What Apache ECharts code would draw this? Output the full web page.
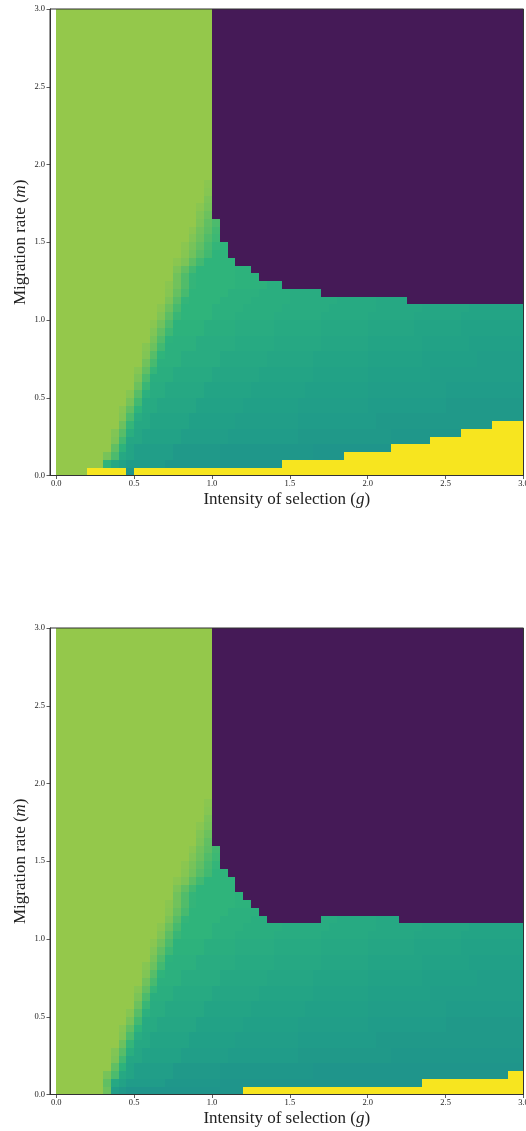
<!DOCTYPE html>
<html><head><meta charset="utf-8">
<script src="https://cdn.jsdelivr.net/npm/echarts@6/dist/echarts.min.js"></script>
<style>html,body{margin:0;padding:0;background:#fff;}#c{width:526px;height:1131px;}</style>
</head><body><div id="c"></div>
<script>
// ---- data ----
const CELL = 0.05;                       // grid step in g and m
const gTicks = [0, 0.5, 1, 1.5, 2, 2.5, 3];
const mTicks = [0, 0.5, 1, 1.5, 2, 2.5, 3];
const xName = 'Intensity of selection ({i|g})';
const yName = 'Migration rate ({i|m})';
// special levels: G = green region, P = purple region, Y = yellow region
const SPECIAL = { G: 0.85, P: 0.0, Y: 1.0 };
// other chars: value = 0.50 + base36(char) * 0.01
// rows written from top (m = 2.95..3.00) to bottom (m = 0..0.05), run-length: char + count
const topRows = [
"G20 P40","G20 P40","G20 P40","G20 P40","G20 P40","G20 P40","G20 P40","G20 P40","G20 P40","G20 P40","G20 P40",
"G20 P40","G20 P40","G20 P40","G20 P40","G20 P40","G20 P40","G20 P40","G20 P40","G20 P40","G20 P40","G20 P40",
"G19 x1 P40",
"G19 w1 P40",
"G19 u1 P40",
"G18 x1 t1 P40",
"G18 v1 r1 P40",
"G18 u1 p1 l1 P39",
"G17 x1 s1 o1 j1 P39",
"G17 v1 r1 m1 i1 P39",
"G16 x1 t1 p1 k1 g1 f1 P38",
"G16 w1 s1 n1 j1 f2 P38",
"G15 x1 u1 o1 j1 f4 P37",
"G15 u1 p1 j1 f5 e2 P35",
"G15 s1 m1 g1 f5 e3 P34",
"G14 x1 s1 m1 g1 f5 e4 c2 P31",
"G14 w1 q1 k1 f5 d4 c4 b4 P26",
"G14 u1 n1 g1 f4 d4 c5 b6 a5 94 P15",
"G13 x1 r1 k1 f4 d4 c5 b6 a6 96 86 77",
"G13 v1 o1 h1 f4 d3 c5 b6 a6 96 86 78",
"G12 x1 s1 l1 e4 c4 b5 a6 96 86 76 68",
"G12 v1 p1 i1 e4 c4 b5 a6 96 86 76 68",
"G12 t1 m1 e1 d3 b5 a5 96 86 77 66 57",
"G11 w1 r1 j1 d4 b5 a5 96 86 77 66 57",
"G11 v1 n1 f1 d2 b5 96 86 77 67 57 46",
"G11 s1 k1 d3 b5 96 86 77 67 57 46",
"G10 w1 p1 g1 c2 a5 86 77 67 58 412",
"G10 u1 l1 c3 a5 86 77 67 58 412",
"G10 r1 h1 b2 95 76 67 58 410 310",
"G9 w1 n1 d1 b2 95 76 67 58 410 310",
"G9 t1 j1 a2 85 66 57 49 310 210",
"G8 w1 p1 f1 a2 85 66 57 49 310 210",
"G8 v1 l1 b1 91 75 56 48 310 219",
"G8 r1 g1 92 75 56 48 310 215 Y4",
"G7 v1 n1 c1 81 65 46 39 212 19 Y8",
"G7 u1 j1 82 65 46 39 212 15 Y12",
"G7 p1 e1 71 45 26 112 010 Y17",
"G6 t1 l1 91 71 45 26 112 04 Y23",
"G6 f1 91 61 35 17 08 Y31",
"G4 Y5 01 Y50"
];
const bottomRows = [
"G20 P40","G20 P40","G20 P40","G20 P40","G20 P40","G20 P40","G20 P40","G20 P40","G20 P40","G20 P40","G20 P40",
"G20 P40","G20 P40","G20 P40","G20 P40","G20 P40","G20 P40","G20 P40","G20 P40","G20 P40","G20 P40","G20 P40",
"G19 x1 P40",
"G19 w1 P40",
"G19 u1 P40",
"G18 x1 t1 P40",
"G18 v1 r1 P40",
"G18 u1 p1 P40",
"G17 x1 s1 o1 j1 P39",
"G17 v1 r1 m1 i1 P39",
"G16 x1 t1 p1 k1 g1 P39",
"G16 w1 s1 n1 j1 f2 P38",
"G15 x1 u1 o1 j1 f4 P37",
"G15 u1 p1 j1 f5 P37",
"G15 s1 m1 g1 f5 e1 P36",
"G14 x1 s1 m1 g1 f5 e2 P35",
"G14 w1 q1 k1 f5 d4 P34",
"G14 u1 n1 g1 f4 d4 c2 P7 b2 a5 93 P16",
"G13 x1 r1 k1 f4 d4 c5 b6 a6 96 86 77",
"G13 v1 o1 h1 f4 d3 c5 b6 a6 96 86 78",
"G12 x1 s1 l1 e4 c4 b5 a6 96 86 76 68",
"G12 v1 p1 i1 e4 c4 b5 a6 96 86 76 68",
"G12 t1 m1 e1 d3 b5 a5 96 86 77 66 57",
"G11 w1 r1 j1 d4 b5 a5 96 86 77 66 57",
"G11 v1 n1 f1 d2 b5 96 86 77 67 57 46",
"G11 s1 k1 d3 b5 96 86 77 67 57 46",
"G10 w1 p1 g1 c2 a5 86 77 67 58 412",
"G10 u1 l1 c3 a5 86 77 67 58 412",
"G10 r1 h1 b2 95 76 67 58 410 310",
"G9 w1 n1 d1 b2 95 76 67 58 410 310",
"G9 t1 j1 a2 85 66 57 49 310 210",
"G8 w1 p1 f1 a2 85 66 57 49 310 210",
"G8 v1 l1 b1 91 75 56 48 310 219",
"G8 r1 g1 92 75 56 48 310 219",
"G7 v1 n1 c1 81 65 46 39 212 117",
"G7 u1 j1 82 65 46 39 212 117",
"G7 p1 e1 71 45 26 112 027",
"G6 t1 l1 91 71 45 26 112 025 Y2",
"G6 p1 91 61 35 17 026 Y13",
"G6 r1 41 21 015 Y36"
];

// ---- decode run-length rows into [g, m, value] cells ----
function decodeRows(rows) {
  const out = [];
  const n = rows.length;
  rows.forEach((row, i) => {
    const r = n - 1 - i;
    let c = 0;
    row.trim().split(/\s+/).forEach(tok => {
      const ch = tok[0];
      const cnt = parseInt(tok.slice(1), 10);
      const v = (ch in SPECIAL) ? SPECIAL[ch] : 0.5 + parseInt(ch, 36) * 0.01;
      for (let k = 0; k < cnt; k++, c++) {
        out.push([+(c * CELL).toFixed(2), +(r * CELL).toFixed(2), +v.toFixed(2)]);
      }
    });
  });
  return out;
}

const PALETTE = ['#451a57','#46205f','#462c6c','#443878','#3f4683','#3a5388','#35608b','#2f6c8c','#2a788d','#25858d',
  '#1f958b','#21a087','#27aa82','#2fb47b','#47ba6f','#61bf63','#7cc457','#94c84b','#b2d23b','#d5dc2c','#f7e51f'];

const FONT = 'Liberation Serif';
const AX = '#333';

function renderCell(params, api) {
  const g = api.value(0), m = api.value(1);
  const a = api.coord([g, m + CELL]);
  const b = api.coord([g + CELL, m]);
  const x0 = Math.round(a[0]), x1 = Math.round(b[0]);
  const y0 = Math.round(a[1]), y1 = Math.round(b[1]);
  return { type: 'rect', shape: { x: x0, y: y0, width: x1 - x0, height: y1 - y0 },
           style: { fill: api.visual('color') } };
}

function xAxisFor(i) {
  return {
    gridIndex: i, type: 'value', min: -0.04, max: 3, z: 10,
    axisLine: { show: true, onZero: false, lineStyle: { color: AX, width: 1 } },
    axisTick: { show: true, customValues: gTicks, length: 3.5, lineStyle: { color: AX, width: 0.8 } },
    axisLabel: { customValues: gTicks, formatter: v => Number(v).toFixed(1), fontFamily: FONT, fontSize: 8.5, color: '#222', margin: 4 },
    splitLine: { show: false },
    name: xName, nameLocation: 'middle', nameGap: 16, nameMoveOverlap: false,
    nameTextStyle: { fontFamily: FONT, fontSize: 17, color: '#222',
      rich: { i: { fontFamily: FONT, fontSize: 17, fontStyle: 'italic', color: '#222' } } }
  };
}
function yAxisFor(i) {
  return {
    gridIndex: i, type: 'value', min: 0, max: 3, interval: 0.5, z: 10,
    axisLine: { show: true, onZero: false, lineStyle: { color: AX, width: 1 } },
    axisTick: { show: true, length: 3.5, lineStyle: { color: AX, width: 0.8 } },
    axisLabel: { formatter: v => Number(v).toFixed(1), fontFamily: FONT, fontSize: 8.5, color: '#222', margin: 5 },
    splitLine: { show: false },
    name: yName, nameLocation: 'middle', nameGap: 21, nameMoveOverlap: false,
    nameTextStyle: { fontFamily: FONT, fontSize: 17, color: '#222',
      rich: { i: { fontFamily: FONT, fontSize: 17, fontStyle: 'italic', color: '#222' } } }
  };
}

const chart = echarts.init(document.getElementById('c'), null, { renderer: 'canvas' });
chart.setOption({
  animation: false,
  backgroundColor: '#fff',
  grid: [
    { left: 50, top: 9, width: 473.5, height: 466.5, outerBoundsMode: 'none', containLabel: false,
      show: true, z: 10, backgroundColor: 'transparent', borderColor: AX, borderWidth: 1 },
    { left: 50, top: 628, width: 473.5, height: 466.5, outerBoundsMode: 'none', containLabel: false,
      show: true, z: 10, backgroundColor: 'transparent', borderColor: AX, borderWidth: 1 }
  ],
  xAxis: [xAxisFor(0), xAxisFor(1)],
  yAxis: [yAxisFor(0), yAxisFor(1)],
  visualMap: { type: 'continuous', show: false, min: 0, max: 1, dimension: 2, seriesIndex: [0, 1],
    inRange: { color: PALETTE } },
  series: [
    { type: 'custom', xAxisIndex: 0, yAxisIndex: 0, z: 1, clip: true, renderItem: renderCell, data: decodeRows(topRows) },
    { type: 'custom', xAxisIndex: 1, yAxisIndex: 1, z: 1, clip: true, renderItem: renderCell, data: decodeRows(bottomRows) }
  ]
});
</script></body></html>
